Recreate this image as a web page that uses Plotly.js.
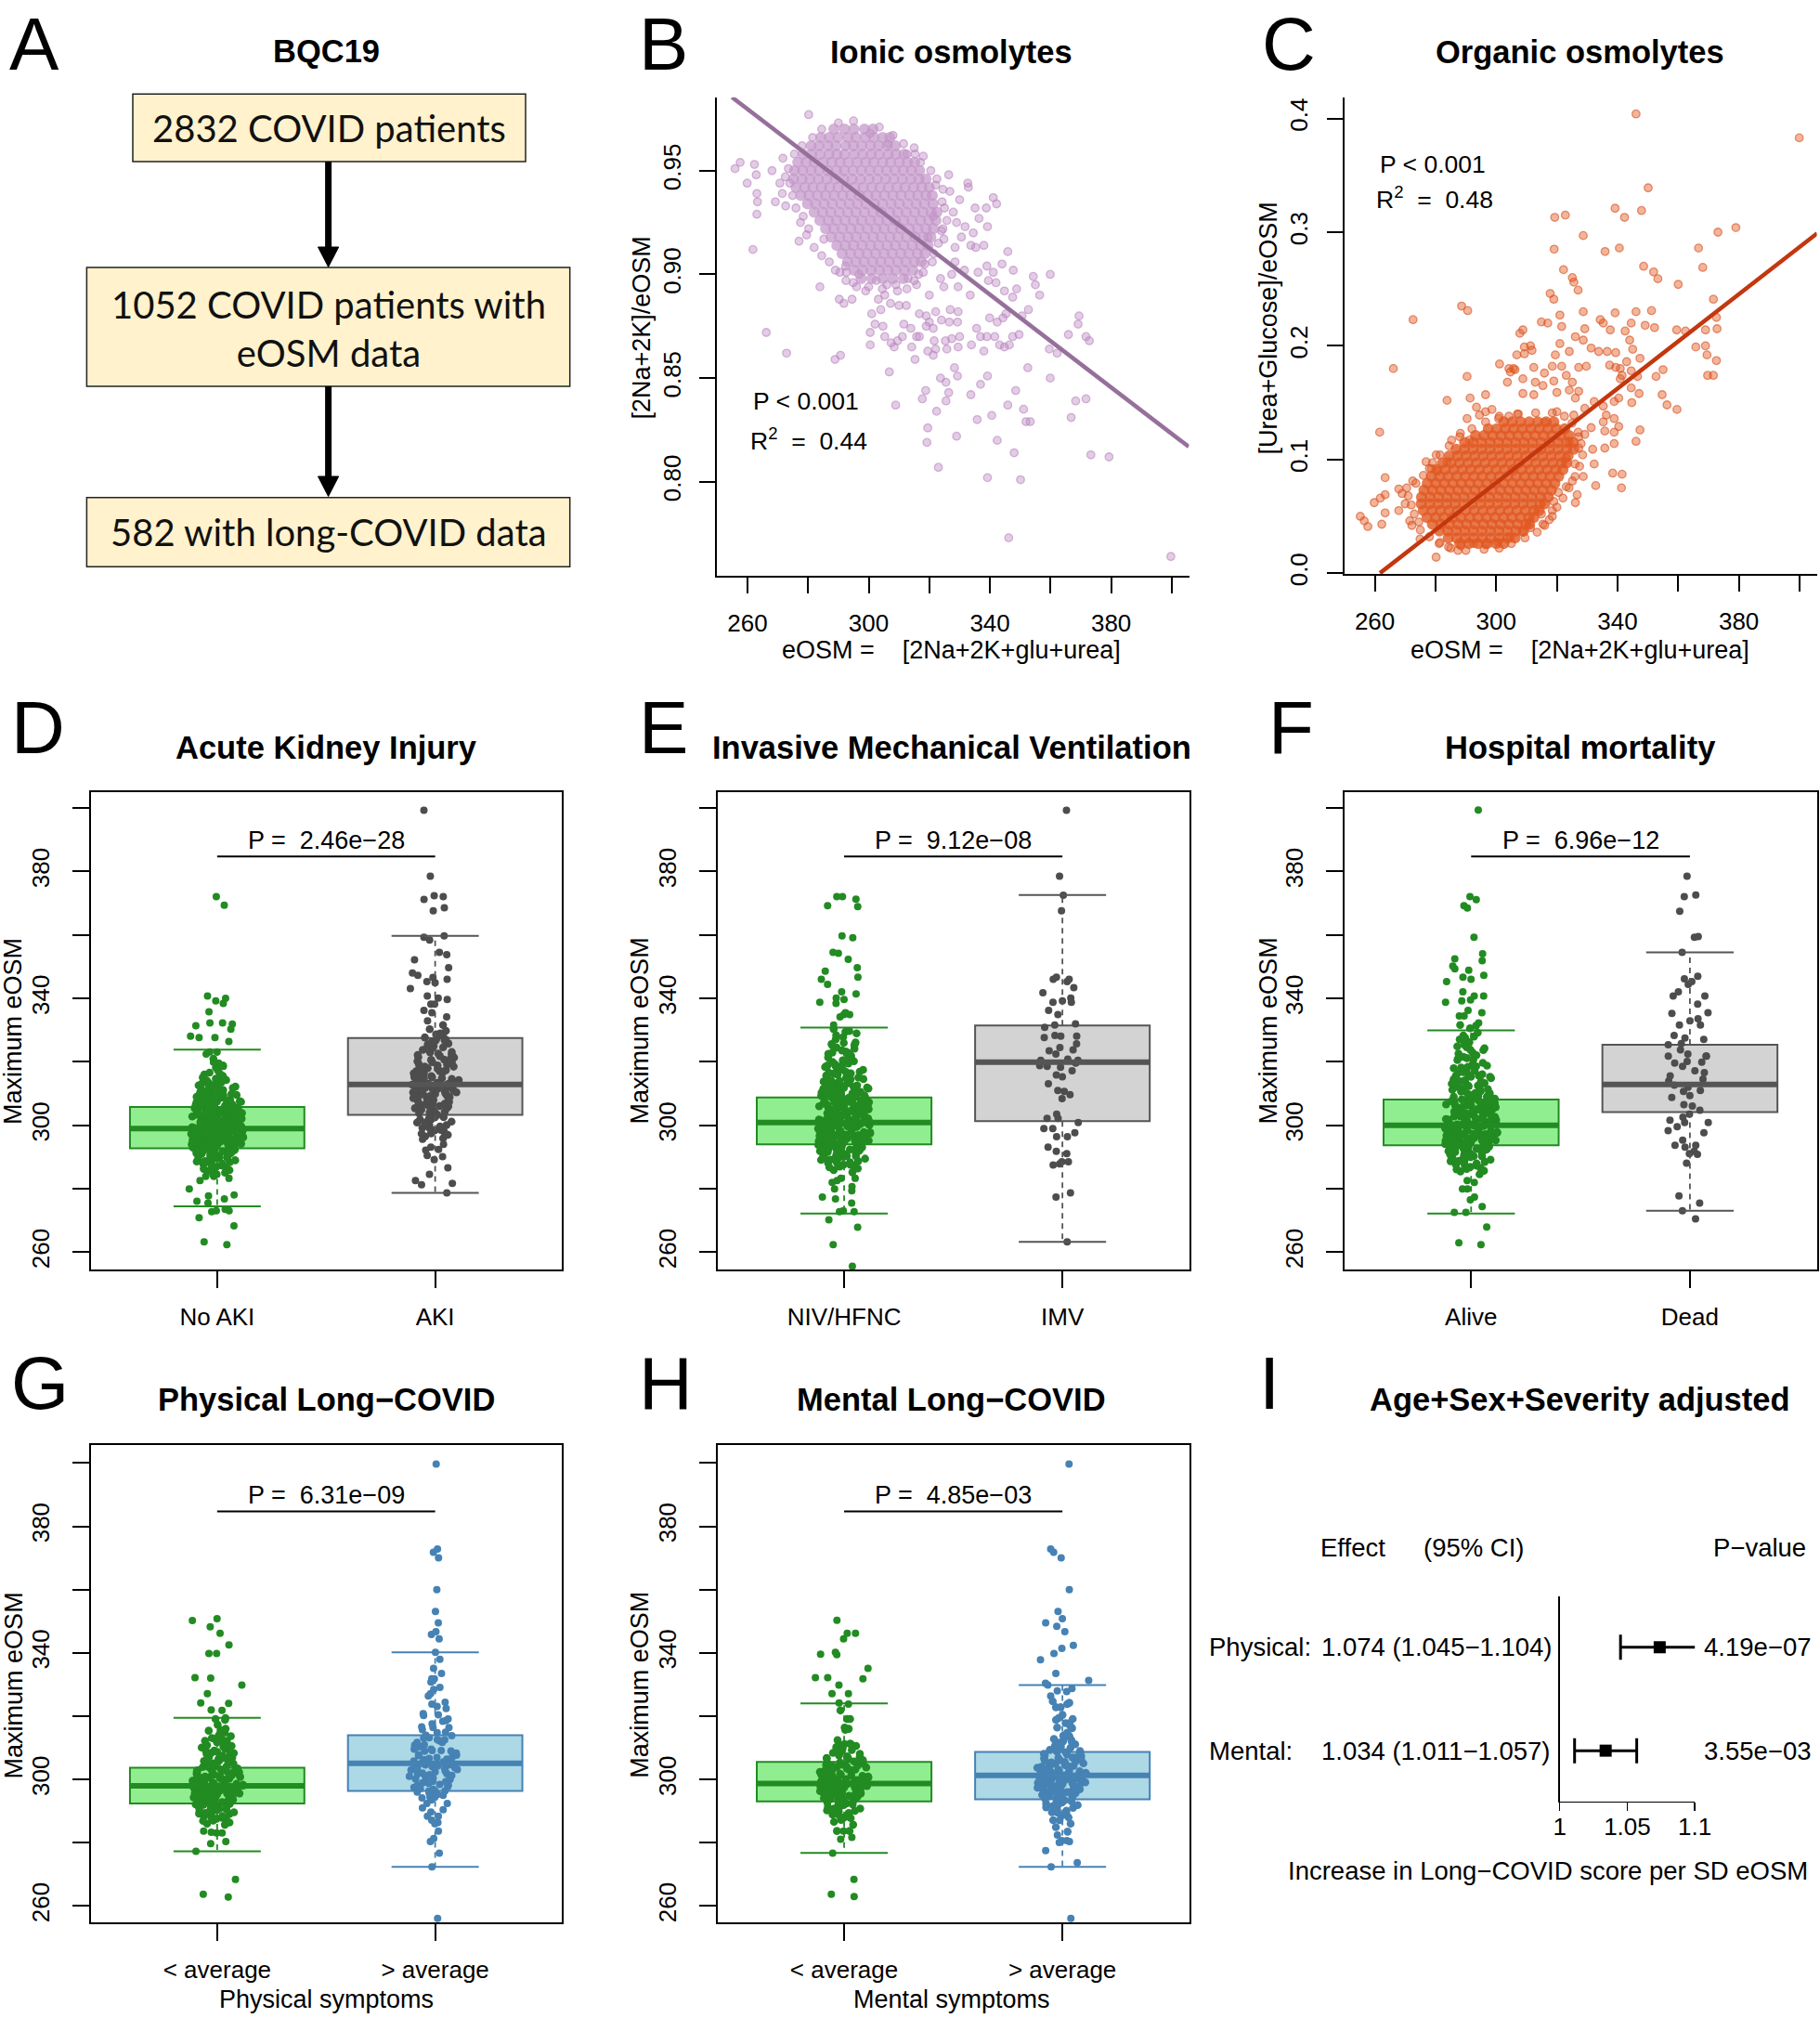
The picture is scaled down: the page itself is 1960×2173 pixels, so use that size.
<!DOCTYPE html>
<html>
<head>
<meta charset="utf-8">
<script src="https://cdn.plot.ly/plotly-3.0.1.min.js"></script>
<style>html,body{margin:0;padding:0;background:#fff;}#fig{width:1960px;height:2173px;}</style>
</head>
<body>
<div id="fig"></div>
<script>
// ================= DATA =================
// Panel A – cohort flow
const flowCounts = [2832, 1052, 582];
const flowTexts = [' COVID patients', ' COVID patients with<br>eOSM data', ' with long-COVID data'];

// Panel B – ionic osmolytes: dense core (rows) + scattered points
const ionicCoreY = [0.970,0.966,0.962,0.958,0.954,0.950,0.946,0.942,0.938,0.934,0.930,0.926,0.922,0.918,0.914,0.910,0.906,0.902,0.898];
const ionicCoreX = [
 [288.5,292.0,295.1,298.6,301.4],
 [284.2,287.0,289.9,293.1,295.8,298.9,301.7,304.6,307.0],
 [281.0,283.6,286.5,289.2,292.4,295.0,297.7,300.6,303.3,306.1,308.8],
 [278.3,281.2,284.0,286.9,289.5,292.1,295.2,298.0,300.8,303.5,306.4,309.0,311.7],
 [276.6,279.4,282.1,285.0,287.8,290.5,293.3,296.2,299.0,301.7,304.6,307.2,310.1,312.8,315.2],
 [275.5,278.2,281.0,283.7,286.5,289.4,292.0,294.8,297.6,300.4,303.2,305.9,308.7,311.4,314.1,316.8],
 [275.2,278.0,280.6,283.4,286.2,289.0,291.8,294.5,297.3,300.1,302.8,305.6,308.3,311.1,313.9,316.6,318.9],
 [276.0,278.9,281.6,284.4,287.1,289.9,292.7,295.4,298.2,301.0,303.7,306.5,309.3,312.0,314.8,317.5,320.0],
 [277.6,280.3,283.1,285.8,288.6,291.4,294.1,296.9,299.7,302.4,305.2,308.0,310.7,313.5,316.2,318.9,321.0],
 [279.8,282.5,285.3,288.0,290.8,293.6,296.3,299.1,301.9,304.6,307.4,310.1,312.9,315.7,318.4,321.2],
 [282.0,284.8,287.5,290.3,293.1,295.8,298.6,301.4,304.1,306.9,309.6,312.4,315.2,317.9,320.6,322.5],
 [283.9,286.7,289.4,292.2,295.0,297.7,300.5,303.3,306.0,308.8,311.5,314.3,317.1,319.8,322.2],
 [285.8,288.5,291.3,294.1,296.8,299.6,302.4,305.1,307.9,310.6,313.4,316.2,318.9,321.4],
 [287.6,290.4,293.2,295.9,298.7,301.5,304.2,307.0,309.7,312.5,315.3,318.0,320.5],
 [289.5,292.3,295.0,297.8,300.6,303.3,306.1,308.8,311.6,314.4,317.1,319.6],
 [291.2,294.0,296.8,299.5,302.3,305.1,307.8,310.6,313.3,316.1,318.6],
 [293.0,295.8,298.5,301.3,304.0,306.8,309.6,312.3,315.1,317.4],
 [295.2,298.0,300.8,303.5,306.3,309.0,311.8,314.6],
 [297.5,301.0,304.6,308.0,311.5]
];
const ionicPoints = [
 [280.2,0.977],[255.9,0.951],[257.6,0.954],[262.3,0.953],[262.9,0.948],[259.9,0.944],[263.1,0.939],[263.3,0.935],[263.1,0.929],[261.8,0.912],
 [268.1,0.950],[269.2,0.935],[271.7,0.956],[270.7,0.944],[271.5,0.939],[272.6,0.933],[274.9,0.938],[277.0,0.916],[278.4,0.928],[280.2,0.922],
 [285.2,0.917],[283.9,0.894],[290.3,0.888],[291.8,0.886],[294.5,0.888],[266.2,0.872],[272.9,0.862],[288.9,0.859],[290.7,0.861],
 [300.5,0.968],[306.5,0.963],[312.6,0.958],[315.3,0.958],[317.1,0.954],[326.4,0.948],[332.7,0.944],[332.9,0.942],[335.1,0.932],[338.8,0.932],
 [341.1,0.937],[342.2,0.934],[339.2,0.923],[336.4,0.927],[331.8,0.923],[330.6,0.918],[333.7,0.914],[338.0,0.914],[335.3,0.913],[345.9,0.911],
 [324.8,0.917],[328.5,0.913],[325.8,0.926],[321.3,0.928],[327.9,0.930],[324.2,0.935],[322.1,0.943],
 [347.7,0.902],[339.0,0.904],[341.1,0.901],[339.5,0.897],[342.0,0.896],[344.8,0.892],[347.5,0.889],[354.3,0.899],[355.0,0.895],[356.4,0.890],
 [359.9,0.900],[352.7,0.883],[350.6,0.880],[345.3,0.881],[344.3,0.879],[339.9,0.879],[342.4,0.877],[335.6,0.874],[336.9,0.870],[339.0,0.870],
 [341.6,0.870],[343.2,0.866],[344.8,0.865],[346.4,0.866],[347.5,0.870],[349.6,0.871],[338.0,0.863],[333.9,0.866],[330.0,0.870],[327.4,0.869],
 [325.3,0.868],[329.5,0.865],[325.8,0.864],[321.6,0.868],[322.1,0.864],[321.3,0.861],[319.5,0.863],[315.8,0.870],[314.2,0.865],[315.3,0.859],
 [308.4,0.865],[307.4,0.867],[309.5,0.868],[311.1,0.870],[311.6,0.876],[313.9,0.874],[316.7,0.870],[319.0,0.875],[320.0,0.877],[321.3,0.874],
 [324.0,0.878],[326.6,0.877],[329.3,0.877],[329.5,0.882],[326.9,0.883],[322.1,0.882],[319.0,0.880],[316.7,0.881],[312.4,0.885],[310.0,0.885],
 [307.2,0.886],[304.0,0.883],[301.0,0.881],[302.1,0.876],[300.5,0.872],[304.7,0.875],[305.3,0.870],[300.5,0.866],[306.8,0.853],[308.9,0.837],
 [317.7,0.840],[318.8,0.844],[322.4,0.834],[323.7,0.850],[325.5,0.848],[326.4,0.843],[325.5,0.839],[328.3,0.855],[329.3,0.851],[333.7,0.842],
 [336.9,0.847],[339.2,0.851],[335.8,0.830],[340.6,0.832],[345.9,0.837],[348.5,0.844],[351.1,0.835],[351.9,0.829],[353.3,0.829],[352.5,0.855],
 [319.5,0.826],[319.2,0.819],[329.0,0.822],[342.4,0.820],[348.0,0.814],[323.0,0.807],[339.2,0.802],[350.1,0.801],[346.2,0.773],[399.7,0.764],
 [359.9,0.850],[362.2,0.862],[359.6,0.864],[365.9,0.871],[369.4,0.880],[369.1,0.876],[371.7,0.870],[372.8,0.868],[366.8,0.831],[368.3,0.839],
 [371.7,0.840],[373.3,0.813],[379.3,0.812],
 [320.0,0.890],[324.8,0.894],[329.5,0.894],[333.5,0.890],[336.1,0.901],[331.6,0.902],[327.4,0.900],[323.7,0.898],[328.5,0.906],[315.8,0.895],
 [312.6,0.893],[309.5,0.892],[305.3,0.890],[303.2,0.888],[299.0,0.892],[296.8,0.900],[294.9,0.896],[292.6,0.901],[290.5,0.901],[292.4,0.904],
 [318.5,0.905],[321.5,0.910],[324.0,0.921],[319.5,0.918],[326.8,0.940],[330.0,0.936],[329.0,0.925],[316.5,0.900],[313.0,0.898],[306.0,0.895],
 [302.5,0.897],[334.5,0.920],[344.0,0.905],[348.8,0.893],
 [273.5,0.951],[274.0,0.944],[272.5,0.947],[276.0,0.932],[277.5,0.925],[279.5,0.919],[282.0,0.913],[284.5,0.909],[287.0,0.906],[289.0,0.902],
 [275.5,0.958],[278.0,0.962],[281.5,0.966],[284.5,0.970],[290.0,0.973],[295.0,0.974],[303.5,0.971],[308.0,0.967],[311.5,0.963],[315.0,0.961],
 [318.0,0.957],[320.5,0.950],[322.5,0.946],[324.5,0.941],[325.0,0.932],[324.5,0.922],[323.0,0.915],[321.0,0.906],[318.0,0.901],[315.0,0.897],
 [296.0,0.894],[292.5,0.897],[300.0,0.894],[304.5,0.893],[309.0,0.895]
];
const ionicFitX = [254.9, 405.6];
const ionicFitY = [0.9854, 0.8169];
const ionicStats = ['P < 0.001', 'R<sup>2</sup>  =  0.44'];

// Panel C – organic osmolytes
const organicCoreY = [0.133,0.127,0.121,0.115,0.109,0.103,0.097,0.091,0.085,0.079,0.073,0.067,0.061,0.055,0.049,0.043,0.037,0.031,0.026];
const organicCoreX = [
 [302.5,305.3,308.1,310.9,313.7,316.5,319.0],
 [297.4,300.2,303.0,305.8,308.6,311.4,314.2,317.0,319.8,322.6],
 [293.2,296.0,298.8,301.6,304.4,307.2,310.0,312.8,315.6,318.4,321.2,324.0],
 [289.6,292.4,295.2,298.0,300.8,303.6,306.4,309.2,312.0,314.8,317.6,320.4,323.2,325.4],
 [286.8,289.6,292.4,295.2,298.0,300.8,303.6,306.4,309.2,312.0,314.8,317.6,320.4,323.2,325.6],
 [284.5,287.3,290.1,292.9,295.7,298.5,301.3,304.1,306.9,309.7,312.5,315.3,318.1,320.9,323.7],
 [282.3,285.1,287.9,290.7,293.5,296.3,299.1,301.9,304.7,307.5,310.3,313.1,315.9,318.7,321.5,323.2],
 [280.4,283.2,286.0,288.8,291.6,294.4,297.2,300.0,302.8,305.6,308.4,311.2,314.0,316.8,319.6,322.0],
 [278.6,281.4,284.2,287.0,289.8,292.6,295.4,298.2,301.0,303.8,306.6,309.4,312.2,315.0,317.8,320.6],
 [277.3,280.1,282.9,285.7,288.5,291.3,294.1,296.9,299.7,302.5,305.3,308.1,310.9,313.7,316.5,319.3],
 [276.2,279.0,281.8,284.6,287.4,290.2,293.0,295.8,298.6,301.4,304.2,307.0,309.8,312.6,315.4,318.2],
 [275.4,278.2,281.0,283.8,286.6,289.4,292.2,295.0,297.8,300.6,303.4,306.2,309.0,311.8,314.6,317.2],
 [275.3,278.1,280.9,283.7,286.5,289.3,292.1,294.9,297.7,300.5,303.3,306.1,308.9,311.7,314.5,316.0],
 [276.0,278.8,281.6,284.4,287.2,290.0,292.8,295.6,298.4,301.2,304.0,306.8,309.6,312.4,314.2],
 [277.2,280.0,282.8,285.6,288.4,291.2,294.0,296.8,299.6,302.4,305.2,308.0,310.8,312.4],
 [279.0,281.8,284.6,287.4,290.2,293.0,295.8,298.6,301.4,304.2,307.0,309.8,311.0],
 [281.3,284.1,286.9,289.7,292.5,295.3,298.1,300.9,303.7,306.5,309.0],
 [284.2,287.0,289.8,292.6,295.4,298.2,301.0,303.8,306.2],
 [288.0,291.0,294.0,297.0,300.0,302.5]
];
const organicPoints = [
 [346.1,0.404],[399.9,0.383],[350.1,0.339],[339.2,0.321],[342.3,0.313],[347.9,0.319],[319.3,0.313],[322.8,0.315],[328.7,0.297],[319.1,0.285],
 [335.9,0.283],[340.6,0.286],[373.1,0.300],[379.0,0.304],[366.7,0.286],[368.1,0.269],[360.0,0.254],[348.6,0.270],[351.9,0.265],[353.3,0.259],
 [322.2,0.267],[325.1,0.260],[325.6,0.256],[327.0,0.249],[317.8,0.246],[319.0,0.241],[288.6,0.235],[290.6,0.231],[272.6,0.223],[266.1,0.180],
 [261.6,0.124],[371.6,0.241],[372.6,0.225],[372.8,0.215],[369.0,0.214],[365.8,0.199],[369.0,0.200],[369.5,0.192],[372.6,0.187],[369.7,0.174],
 [371.6,0.174],[359.5,0.214],[362.4,0.213],[355.0,0.179],[352.7,0.173],[354.7,0.157],[356.3,0.148],[359.6,0.144],[347.4,0.126],[346.1,0.116],
 [351.2,0.231],[349.1,0.218],[352.2,0.216],[346.1,0.230],[344.5,0.220],[339.2,0.229],[342.5,0.213],[344.0,0.205],[345.0,0.197],[347.4,0.189],
 [343.0,0.186],[340.9,0.180],[339.4,0.194],[336.6,0.195],[333.8,0.195],[331.3,0.198],[334.3,0.223],[335.3,0.220],[337.6,0.214],[328.7,0.230],
 [329.2,0.215],[326.1,0.208],[328.7,0.205],[321.0,0.227],[321.6,0.217],[321.0,0.202],[324.1,0.195],[319.5,0.192],[314.9,0.221],[317.0,0.220],
 [308.8,0.214],[307.8,0.211],[311.3,0.200],[311.8,0.196],[306.8,0.192],[309.3,0.193],[301.1,0.184],[304.2,0.180],[306.2,0.179],[312.4,0.181],
 [318.5,0.182],[321.6,0.182],[327.2,0.181],[329.7,0.182],[323.1,0.174],[337.4,0.183],[339.4,0.181],[340.9,0.171],[344.5,0.178],[346.6,0.173],
 [344.5,0.163],[347.1,0.158],[344.7,0.150],[338.9,0.151],[340.4,0.154],[341.5,0.174],[290.4,0.173],[283.8,0.152],[291.4,0.154],[304.7,0.177],
 [303.7,0.168],[308.8,0.171],[312.9,0.168],[315.9,0.176],[319.0,0.169],[325.1,0.168],[327.2,0.160],[335.3,0.147],[336.3,0.139],[338.9,0.136],
 [335.3,0.133],[335.8,0.125],[338.9,0.124],[340.4,0.129],[331.3,0.128],[329.2,0.122],[327.2,0.120],[331.8,0.109],[335.8,0.110],[338.9,0.114],
 [338.4,0.088],[341.5,0.087],[341.3,0.075],[332.3,0.096],[332.8,0.077],[328.7,0.085],[326.0,0.096],[326.1,0.062],[326.7,0.069],[323.1,0.076],
 [318.5,0.055],[315.4,0.043],[317.5,0.047],[280.2,0.014],[274.9,0.030],[267.9,0.055],[263.4,0.084],[263.4,0.069],[261.8,0.066],[259.8,0.062],
 [255.2,0.050],[256.5,0.046],[257.7,0.041],[262.3,0.043],[263.4,0.053],[267.9,0.074],[269.0,0.070],[270.0,0.061],[272.5,0.081],[271.5,0.046],
 [272.2,0.042],[276.9,0.098],[280.2,0.104],[278.7,0.092],[280.7,0.090],[283.8,0.098],[285.3,0.117],[288.2,0.123],[290.4,0.136],[291.2,0.117],
 [293.5,0.146],[294.5,0.139],[296.5,0.142],[298.6,0.144],[300.8,0.136],[296.5,0.157],[305.7,0.180],[309.3,0.199],[304.2,0.138],[307.3,0.140],
 [308.8,0.158],[312.4,0.157],[315.4,0.165],[320.0,0.159],[324.1,0.161],[326.1,0.154],[329.2,0.145],[332.3,0.151],[325.6,0.139],[320.0,0.142],
 [315.9,0.133],[324.1,0.116],[327.2,0.110],[323.1,0.101],[325.1,0.081],[320.5,0.071],[319.0,0.063],[314.9,0.052],[311.3,0.040],[308.8,0.036],
 [304.7,0.032],[300.6,0.027],[296.5,0.025],[292.5,0.026],[288.4,0.024],[287.4,0.020],[284.3,0.023],[281.2,0.026],
 [272.0,0.060],[273.0,0.052],[274.5,0.045],[271.0,0.068],[270.5,0.075],[273.5,0.079],[276.0,0.086],[278.0,0.092],[275.0,0.038],[278.0,0.032],
 [281.5,0.027],[285.0,0.022],[290.0,0.020],[296.0,0.021],[301.0,0.022],[305.0,0.026],[309.5,0.031],[313.5,0.036],[316.0,0.042],[318.5,0.050],
 [320.0,0.058],[322.0,0.066],[324.0,0.075],[326.0,0.085],[327.5,0.094],[328.5,0.104],[328.0,0.114],[327.0,0.124],[325.0,0.132],[322.5,0.138],
 [318.5,0.141],[313.0,0.141],[307.0,0.140],[301.0,0.138],[296.5,0.133],[292.0,0.127],[288.0,0.120],[284.5,0.112],[281.5,0.104],[279.0,0.097]
];
const organicFitX = [261.7, 405.8];
const organicFitY = [0.0, 0.2989];
const organicStats = ['P < 0.001', 'R<sup>2</sup>  =  0.48'];

// Panel D – Acute kidney injury
const akiCats = ['No AKI', 'AKI'];
const akiQ1 = [292.8, 303.3], akiMed = [299.0, 312.9], akiQ3 = [305.8, 327.5], akiLo = [274.5, 278.7], akiHi = [323.9, 359.7];
const akiP = 'P =  2.46e\u221228';
const akiNoTail = [369.4,372.1,340.8,340.0,339.2,338.4,335.8,332.3,331.9,332.3,331.4,330.3,328.1,327.7,327.7,326.4,323.1,323.1,322.5,319.9,319.6,318.6,
 283.9,284.6,284.6,283.3,282.6,283.9,280.0,278.1,277.8,276.8,276.1,275.5,273.5,272.8,273.1,273.1,270.9,268.3,262.4,263.3];
const akiNoCore = [318.9,317.2,316.0,315.1,314.3,313.5,312.6,311.8,311.1,310.4,309.8,309.2,308.7,308.1,307.6,307.1,306.7,306.2,305.8,305.4,305.0,304.6,304.2,303.8,
 303.5,303.1,302.8,302.4,302.1,301.8,301.5,301.2,300.9,300.6,300.3,300.0,299.7,299.4,299.1,298.8,298.5,298.2,297.9,297.6,297.3,297.0,296.7,296.4,296.0,295.7,
 295.3,295.0,294.6,294.2,293.8,293.4,293.0,292.5,292.0,291.5,291.0,290.4,289.8,289.1,288.4,287.6,286.8,285.9,
 321.0,316.6,314.7,313.1,312.2,310.8,309.5,308.4,307.4,306.5,305.6,304.8,304.0,303.3,302.6,301.9,301.3,300.7,300.1,299.5,298.9,298.3,297.7,297.1,296.5,295.9,
 295.2,294.4,293.6,292.8,291.8,290.7,289.4,287.9,286.3,
 303.6,302.2,300.4,299.2,298.0,296.8,295.5,294.0,299.9,301.0,297.4,304.4,292.2,306.9,290.0,309.9,288.7,311.4,300.2,298.6,296.2,302.9,294.8,305.2,293.2,307.9,
 291.2,315.6,
 300.5,299.3,301.7,298.1,302.9,297.0,304.1,295.8,305.3,294.6,306.6,293.3,308.0,292.0,309.6,290.6,311.3,289.0,313.4,287.3,316.2,285.1,
 300.9,299.6,302.0,298.4,303.2,297.2,304.5,296.0,305.8,294.8,307.2,293.5,308.8,292.1,310.4,290.4,312.3,288.6,314.8,286.5,318.2,
 299.8,301.2,298.7,302.5,297.6,303.9,296.4,305.1,295.1,306.3,293.9,307.5,292.6,309.0,291.2,310.9,289.6,312.9,287.8,315.6,
 300.0,299.0,301.4,297.8,302.7,296.6,303.6,295.4,304.9,294.3,306.0,293.0,307.8,291.6,309.3,290.0,311.8,288.1,314.1,
 298.4,301.5,297.5,302.4,296.2,303.4,295.0,304.7,293.7,306.1,292.3,307.4,290.9,308.6,289.3,310.1,287.0,312.7,285.6];
const akiYesTail = [399.3,378.5,371.2,372.4,372.1,368.6,367.6,359.3,359.7,358.4,352.2,353.8,354.5,349.7,348.0,347.3,346.6,345.3,346.0,344.9,343.1,340.8,340.1,
 339.7,338.2,336.2,335.5,338.2,334.2,332.9,
 290.5,292.4,289.2,292.2,290.1,286.6,284.6,282.6,281.3,281.7,278.7,294.0,293.1,295.6];
const akiYesCore = [331.6,330.3,329.0,327.7,
 327.1,326.3,325.5,324.6,323.8,323.0,322.2,321.4,320.6,319.9,319.2,318.5,317.8,317.1,316.4,315.8,315.2,314.6,314.0,313.4,312.8,312.2,311.6,311.0,310.4,309.8,
 309.2,308.6,308.0,307.4,306.8,306.1,305.4,304.7,304.0,303.3,302.5,301.7,300.9,300.0,299.1,298.1,297.0,295.9,
 328.6,325.0,322.6,320.2,318.0,316.0,314.3,312.5,311.3,309.5,307.7,306.0,304.3,302.1,299.6,297.5,
 313.7,312.9,314.9,311.9,316.7,310.7,318.9,308.9,321.8,306.4,324.4,303.8,313.1,315.5,310.1,317.4,305.7,320.9,301.2,326.8,298.6,
 313.0,312.0,314.0,311.0,315.2,309.9,316.5,308.7,317.8,307.5,319.2,306.2,320.7,304.9,322.3,303.4,324.0,301.8,325.8,300.1,327.7,298.4,329.8,296.5,
 312.6,313.6,311.5,314.6,310.4,315.8,309.3,317.1,308.1,318.5,306.8,320.0,305.5,321.5,304.1,323.1,302.6,324.9,300.9,326.8,299.2,328.7,297.4];

// Panel E – Invasive mechanical ventilation
const imvCats = ['NIV/HFNC', 'IMV'];
const imvQ1 = [294.0, 301.3], imvMed = [300.9, 319.9], imvQ3 = [308.8, 331.5], imvLo = [272.2, 263.3], imvHi = [330.8, 372.6];
const imvP = 'P =  9.12e\u221208';
const imvNoTail = [371.3,372.1,372.1,368.9,369.2,359.1,359.7,354.2,352.3,354.5,349.7,346.7,346.0,348.6,344.4,342.1,341.4,339.7,340.1,338.8,338.4,335.5,334.9,
 334.9,334.2,331.6,
 270.2,273.1,272.8,272.8,275.5,267.9,262.4,255.6,280.0,277.4,276.8,279.4,280.7,282.0,283.3,282.6,283.3];
const imvNoCore = [329.7,330.3,285.2,
 328.4,327.1,326.0,325.1,324.2,323.3,322.5,321.7,320.9,320.2,319.5,318.8,318.1,317.5,316.9,316.3,315.7,315.1,314.6,314.0,313.5,313.0,312.5,312.0,311.5,311.0,
 310.5,310.1,309.6,309.2,308.7,308.3,307.9,307.4,307.0,306.6,306.2,305.8,305.4,305.0,304.6,304.2,303.8,303.4,303.0,302.6,302.2,301.9,301.5,301.1,300.7,300.3,
 299.9,299.5,299.1,298.7,298.3,297.9,297.5,297.1,296.7,296.3,295.9,295.4,295.0,294.5,294.1,293.6,293.1,292.6,292.1,291.6,291.0,290.4,289.8,289.1,288.4,287.6,
 286.8,285.9,
 329.5,325.6,322.9,320.5,318.4,316.6,314.9,313.3,311.8,310.3,309.0,307.7,306.4,305.2,304.0,302.9,301.7,300.5,299.3,298.1,296.9,295.7,294.3,292.9,291.3,289.5,
 287.3,
 301.3,300.1,302.4,298.9,303.6,297.7,304.8,296.5,306.0,295.2,307.3,293.8,308.6,292.4,310.0,290.7,312.2,288.7,315.4,300.9,299.7,302.0,298.5,303.2,297.3,304.4,
 296.1,305.6,294.7,306.8,293.3,308.1,291.9,309.4,290.1,311.4,
 301.0,300.2,302.3,299.0,303.5,297.8,304.7,296.6,306.0,295.4,307.3,294.2,308.7,292.9,310.2,291.5,311.9,289.9,313.8,288.2,316.0,286.4,318.6,321.4,324.5,327.8,
 300.6,301.8,299.4,303.0,298.2,304.2,297.0,305.5,295.8,306.8,294.6,308.2,293.3,309.7,291.9,311.3,290.3,313.1,288.7,315.2,287.0,317.5,320.0,322.8,326.1,
 301.4,299.8,302.6,298.6,303.9,297.4,305.1,296.2,306.4,295.0,307.8,293.7,309.3,292.2,310.8,290.7,312.6,289.2,314.5,287.6,316.8,319.3,321.9,325.3,329.0,
 300.4,302.0,299.2,303.3,297.9,304.6,296.8,305.9,295.5,307.0,294.0,308.4,292.6,309.9,291.0,311.6,289.5,314.0,288.0,316.4,318.9,323.6];
const imvYesPts = [399.3,378.5,372.5,367.6,346.7,346.0,346.0,345.3,343.4,340.1,341.8,338.8,339.2,338.8,336.2,334.9,332.0,331.6,330.9,328.3,328.1,327.7,328.1,
 325.7,324.5,323.8,323.5,322.5,320.5,320.9,320.5,319.6,318.8,318.6,318.3,317.2,315.9,315.3,313.1,311.0,310.7,309.7,308.4,302.2,303.5,302.2,300.9,299.0,299.0,
 297.7,296.4,296.4,293.1,291.1,291.8,288.5,288.5,287.9,287.5,278.7,277.4,263.3];

// Panel F – Hospital mortality
const mortCats = ['Alive', 'Dead'];
const mortQ1 = [293.7, 304.2], mortMed = [300.0, 312.9], mortQ3 = [308.1, 325.4], mortLo = [272.2, 273.1], mortHi = [329.9, 354.5];
const mortP = 'P =  6.96e\u221212';
const mortAliveTail = [399.4,372.1,371.1,369.2,368.5,359.3,354.1,352.5,351.9,350.2,349.3,348.9,347.3,346.7,346.0,345.3,342.1,340.8,339.5,339.2,338.8,340.8,
 335.5,334.5,336.2,334.5,332.3,
 272.6,272.6,274.4,276.5,277.4,268.0,263.0,262.4,280.0,280.0,282.6,282.0];
const mortAliveCore = [331.6,331.4,330.6,284.6,
 329.2,327.6,326.2,324.9,323.7,322.6,321.6,320.6,319.7,318.8,318.0,317.2,316.4,315.6,314.9,314.2,313.5,312.8,312.1,311.4,310.8,310.2,309.6,309.0,308.4,307.8,
 307.2,306.7,306.1,305.6,305.0,304.5,304.0,303.5,303.0,302.5,302.0,301.5,301.0,300.5,300.1,299.6,299.1,298.6,298.2,297.7,297.2,296.7,296.2,295.7,295.2,294.6,
 294.1,293.5,292.9,292.3,291.6,290.9,290.2,289.4,288.5,287.6,286.6,285.5,
 328.0,324.3,321.1,318.4,316.0,313.9,311.8,310.0,308.2,306.5,304.8,303.2,301.7,300.3,298.9,297.4,295.9,294.4,292.7,290.8,288.7,286.1,
 300.2,299.8,300.8,299.3,301.3,298.8,301.8,298.3,302.3,297.8,302.8,297.3,303.3,296.8,303.8,296.3,304.3,295.8,304.8,295.3,305.3,294.8,305.8,294.3,306.3,293.8,
 307.0,293.0,307.6,292.4,309.3,291.0,312.5,289.9,315.3,
 300.3,299.5,301.6,298.3,302.8,297.1,304.0,295.9,305.3,294.7,306.6,293.5,308.0,292.2,309.5,290.8,311.2,289.2,313.1,287.5,315.3,285.7,317.9,320.7,323.8,327.1,
 299.9,301.1,298.7,302.3,297.5,303.5,296.3,304.8,295.1,306.1,293.9,307.5,292.6,309.0,291.2,310.6,289.6,312.4,288.0,314.5,286.3,316.8,319.3,322.1,325.4,
 300.7,299.1,301.9,297.9,303.2,296.7,304.4,295.5,305.7,294.3,307.1,293.0,308.6,291.5,310.1,290.0,311.9,288.5,313.8,286.9,316.1,318.6,321.2,324.6,328.3,
 299.7,301.3,298.5,302.6,297.2,303.9,296.1,305.2,294.8,306.3,293.3,307.7,291.9,309.2,290.3,310.9,288.8,313.3,287.3,315.7,318.2,322.9];
const mortDeadPts = [378.5,372.1,372.6,367.5,359.3,359.5,354.5,347.0,346.2,345.3,344.4,342.1,340.8,340.8,338.2,335.5,335.3,333.6,332.9,331.6,331.6,328.3,327.1,
 327.5,325.8,325.4,323.8,322.5,321.8,321.8,321.8,320.1,319.9,319.6,318.6,317.2,316.6,315.6,314.6,314.0,312.7,312.0,311.0,310.7,309.4,308.8,306.5,306.1,304.8,
 303.5,302.6,300.9,301.6,300.9,299.6,298.3,297.7,295.3,293.7,293.7,291.8,293.1,291.1,290.9,288.1,275.5,277.8,273.1,270.5];

// Panel G – Physical long-COVID
const physCats = ['< average', '> average'];
const physQ1 = [292.4, 296.4], physMed = [298.0, 305.1], physQ3 = [303.7, 314.0], physLo = [277.3, 272.4], physHi = [319.5, 340.2];
const physP = 'P =  6.31e\u221209';
const physLowTail = [350.2,350.8,348.2,346.2,342.5,339.8,339.8,329.8,332.0,332.2,327.1,324.0,324.2,322.0,321.8,
 280.4,283.7,283.3,283.1,283.1,279.7,277.3,268.4,262.8,263.7];
const physLowCore = [319.1,319.4,318.8,313.1,285.7,286.4,
 317.3,316.0,314.8,313.7,312.7,311.7,310.8,309.9,309.1,308.3,307.5,306.8,306.1,305.4,304.7,304.1,303.5,302.9,302.3,301.7,301.2,300.6,300.1,299.6,299.1,298.6,
 298.1,297.6,297.1,296.6,296.1,295.6,295.1,294.6,294.0,293.5,292.9,292.3,291.7,291.0,290.3,289.6,288.8,287.9,287.0,286.0,
 315.4,312.2,310.3,308.7,307.1,305.7,304.4,303.2,302.0,300.9,299.8,298.8,297.8,296.8,295.8,294.8,293.7,292.6,291.4,290.0,288.4,
 298.3,297.9,298.9,297.3,299.4,296.4,300.4,295.3,301.5,294.3,302.6,293.2,304.0,292.0,305.0,290.6,306.5,289.2,308.0,287.5,
 298.2,297.6,299.0,296.8,299.9,295.9,300.8,295.0,301.8,294.1,302.8,293.1,303.9,292.1,305.1,291.0,306.4,289.8,307.9,288.4,309.6,286.9,311.6,313.9,
 297.9,298.7,297.1,299.6,296.3,300.5,295.4,301.4,294.5,302.3,293.6,303.3,292.6,304.5,291.5,305.8,290.3,307.2,289.1,308.8,287.6,310.6,312.8,315.6,
 298.5,297.3,299.3,296.5,300.2,295.6,301.1,294.7,302.0,293.8,303.1,292.8,304.2,291.8,305.5,290.7,306.9,289.4,308.4,288.0,310.1,312.2];
const physHighPts = [399.7,372.8,370.0,371.8,360.0,353.1,349.5,345.8,346.7,344.4,340.2,338.0,333.5,335.1,331.8,331.8,329.1,328.4,327.1,330.8,326.4,323.8,323.1,
 324.4,322.4,320.4,319.1,320.2,318.4,316.4,316.4,313.8,313.1,312.2,310.4,310.4,309.1,307.7,309.1,305.7,306.4,303.7,303.1,303.7,301.1,300.4,300.4,301.7,298.4,
 296.4,296.4,297.1,294.4,294.4,292.4,292.4,290.4,289.7,288.4,288.4,287.1,286.4,286.0,283.7,281.3,280.4,276.7,272.4,256.1,
 305.1,304.0,306.3,302.6,307.5,301.5,308.9,300.0,310.8,298.8,312.6,297.5,314.9,296.0,303.3,306.9,299.3,309.6,301.0,304.6,298.2,311.7,295.3,302.0,
 305.5,304.6,306.6,303.5,307.8,302.4,309.0,301.3,310.3,300.1,311.7,298.9,313.2,297.7,314.8,296.4,316.6,295.0,318.6,293.5,
 305.8,304.3,307.0,303.0,308.3,301.8,309.6,300.6,311.0,299.4,312.5,298.1,314.0,296.9,315.7,295.7,317.6,294.2,320.8,291.0];

// Panel H – Mental long-COVID
const mentCats = ['< average', '> average'];
const mentQ1 = [293.1, 293.7], mentMed = [298.7, 301.3], mentQ3 = [305.5, 308.7], mentLo = [276.8, 272.4], mentHi = [324.0, 329.8];
const mentP = 'P =  4.85e\u221203';
const mentLowTail = [350.3,344.4,346.2,346.2,339.6,339.4,340.2,335.1,331.8,332.2,332.2,329.8,327.1,327.1,324.2,323.8,
 283.7,281.1,281.7,276.7,268.4,263.0,263.7];
const mentLowCore = [321.8,319.1,319.1,316.4,315.7,316.0,311.3,311.1,285.7,283.7,283.7,
 312.4,311.2,310.2,309.3,308.4,307.6,306.8,306.1,305.4,304.7,304.1,303.4,302.8,302.2,301.6,301.0,300.4,299.8,299.2,298.7,298.1,297.5,296.9,296.3,295.7,295.1,
 294.5,293.8,293.1,292.4,291.6,290.8,289.9,288.9,287.8,286.6,
 310.7,308.9,307.2,305.7,304.4,303.1,301.9,300.7,299.5,298.4,297.2,296.0,294.8,293.4,291.9,290.2,288.3,
 299.0,298.6,300.1,297.9,301.3,296.6,302.5,295.4,303.8,294.1,305.0,292.7,306.6,291.2,309.6,
 298.9,298.2,299.7,297.4,300.6,296.5,301.5,295.6,302.4,294.7,303.5,293.7,304.6,292.6,305.9,291.4,307.3,290.1,308.9,288.7,310.6,287.2,
 299.3,298.0,300.2,297.1,301.1,296.2,302.0,295.3,303.0,294.4,304.1,293.3,305.3,292.1,306.6,290.8,308.1,289.4,309.8,287.9,
 298.6,299.9,297.7,300.9,296.8,301.8,295.9,302.8,295.0,303.8];
const mentHighTail = [399.7,372.8,371.8,370.0,360.0,353.1,350.8,349.5,348.4,346.7,342.4,341.4,339.8,337.8,333.5,331.3,330.4,329.8,328.0,328.7,327.8,326.4,
 282.4,280.7,280.1,280.7,280.4,277.5,272.4,273.7,256.1];
const mentHighCore = [322.8,323.8,324.2,324.7,322.8,319.4,319.1,320.4,318.8,317.8,317.1,316.2,317.8,314.8,316.4,313.8,312.4,313.1,287.1,287.1,284.9,286.0,283.5,
 311.6,310.8,310.0,309.3,308.6,307.9,307.2,306.6,306.0,305.4,304.8,304.2,303.7,303.1,302.6,302.0,301.5,301.0,300.5,299.9,299.4,298.9,298.3,297.8,297.2,296.6,
 296.0,295.4,294.8,294.1,293.4,292.7,291.9,291.0,290.1,289.1,288.0,
 312.0,309.7,308.2,306.9,305.7,304.5,303.4,302.3,301.2,300.2,299.1,298.0,296.9,295.7,294.5,293.1,291.5,289.6,
 301.3,300.7,302.8,299.6,304.0,298.5,305.1,297.4,306.3,296.3,307.6,295.1,309.0,293.8,310.4,292.3,300.0,303.4,297.0,
 301.5,300.4,302.6,299.3,303.7,298.2,304.9,297.1,306.1,296.0,307.4,294.8,308.8,293.5,310.3,292.0,311.9,290.4,313.7,288.6,
 301.0,302.1,299.8,303.2,298.7,304.3,297.6,305.5,296.5,306.8,295.3,308.1,294.1,309.5,292.7,311.1,291.2,312.8,289.5,
 300.6,301.8,299.6,302.9,298.4,304.0,297.3];

// Panel I – adjusted effects
const forestNames = ['Physical:', 'Mental:'];
const forestEst = [1.074, 1.034];
const forestLow = [1.045, 1.011];
const forestHigh = [1.104, 1.057];
const forestPval = ['4.19e\u221207', '3.55e\u221203'];
const forestRow = [2, 1];

// ================= LAYOUT HELPERS =================
const W = 1960, H = 2173;
const px = x => x / W, py = y => 1 - y / H;
const FONT = 'Liberation Sans, Arial, Helvetica, sans-serif';
const annotations = [], shapes = [], traces = [];
const layout = {width: W, height: H, margin: {l:0, r:0, t:0, b:0}, paper_bgcolor:'#fff', plot_bgcolor:'rgba(0,0,0,0)',
  showlegend:false, boxmode:'overlay', font:{family:FONT, size:26, color:'#000'}, annotations, shapes};

function ann(text, x, y, size, extra) {
  annotations.push(Object.assign({text, x:px(x), y:py(y), xref:'paper', yref:'paper', showarrow:false,
    xanchor:'center', yanchor:'middle', font:{family:FONT, size:size, color:'#000'}}, extra || {}));
}
function axisBase(extra) {
  return Object.assign({showgrid:false, zeroline:false, showline:true, linecolor:'#000', linewidth:2,
    ticks:'outside', tickcolor:'#000', tickwidth:2, ticklen:17, tickfont:{family:FONT, size:26, color:'#000'},
    fixedrange:true}, extra);
}
function setAxes(n, xd, yd, xExtra, yExtra) {
  const xs = n === 1 ? 'xaxis' : 'xaxis' + n, ys = n === 1 ? 'yaxis' : 'yaxis' + n;
  const yid = n === 1 ? 'y' : 'y' + n, xid = n === 1 ? 'x' : 'x' + n;
  layout[xs] = axisBase(Object.assign({domain:[px(xd[0]), px(xd[1])], anchor:yid}, xExtra));
  layout[ys] = axisBase(Object.assign({domain:[py(yd[1]), py(yd[0])], anchor:xid}, yExtra));
  return [xid, yid];
}

// ----- Panel letters & titles -----
const lettersTop = [['A',8],['B',686],['C',1357]];
lettersTop.forEach(l => ann(l[0], l[1], 1, 80, {xanchor:'left', yanchor:'top'}));
const letters = [['D',10,783],['E',686,783],['F',1364,783],['G',10,1489],['H',686,1489],['I',1354,1489]];
letters.forEach(l => ann(l[0], l[1], l[2], 80, {xanchor:'left'}));
const titles = [['BQC19',351.4,55],['Ionic osmolytes',1024.8,56],['Organic osmolytes',1701.7,56],
  ['Acute Kidney Injury',351.4,804.6],['Invasive Mechanical Ventilation',1024.8,804.6],['Hospital mortality',1701.7,804.6],
  ['Physical Long\u2212COVID',351.4,1506.5],['Mental Long\u2212COVID',1024.8,1506.5],['Age+Sex+Severity adjusted',1701.7,1506.5]];
titles.forEach(t => ann('<b>' + t[0] + '</b>', t[1], t[2], 34.5));

// ----- Panel A: flow chart -----
const boxesA = [[143,566,101.3,174.1,137.7],[93.4,613.7,288,416,353.7],[93.4,613.7,535.7,610.2,573.5]];
boxesA.forEach((b, i) => {
  shapes.push({type:'rect', xref:'paper', yref:'paper', x0:px(b[0]), x1:px(b[1]), y0:py(b[3]), y1:py(b[2]),
    fillcolor:'#FFF2CC', line:{color:'#222', width:1.5}, layer:'below'});
  annotations.push({text: flowCounts[i] + flowTexts[i], x:px((b[0]+b[1])/2), y:py(b[4]), xref:'paper', yref:'paper',
    showarrow:false, xanchor:'center', yanchor:'middle', font:{family:'Lato, Carlito, sans-serif', size:40, color:'#111'}});
});
[[174.1,267],[416,514]].forEach(a => {
  shapes.push({type:'line', xref:'paper', yref:'paper', x0:px(353.6), x1:px(353.6), y0:py(a[0]), y1:py(a[1]), line:{color:'#000', width:7}});
  const tip = a[1] + 20.5;
  shapes.push({type:'path', xref:'paper', yref:'paper', fillcolor:'#000', line:{color:'#000', width:1},
    path:`M ${px(342.5)} ${py(a[1]-1)} L ${px(364.7)} ${py(a[1]-1)} L ${px(353.6)} ${py(tip)} Z`});
});

// ----- Panels B, C: scatter with regression line -----
function scatterPanel(n, xd, yd, yr, ytv, ytt, coreX, coreY, pts, fitX, fitY, colPt, colCore, colRing, colLine) {
  const [xa, ya] = setAxes(n, xd, yd,
    {range:[249.9, 405.7], tickvals:[260,280,300,320,340,360,380,400], ticktext:['260','','300','','340','','380',''], ticklabelstandoff:10},
    {range:yr, tickvals:ytv, ticktext:ytt, tickangle:-90, ticklabelstandoff:10});
  const cx = [], cy = [];
  coreX.forEach((row, i) => row.forEach(v => { cx.push(v); cy.push(coreY[i]); }));
  traces.push({type:'scatter', mode:'markers', x:pts.map(p => p[0]), y:pts.map(p => p[1]), xaxis:xa, yaxis:ya, hoverinfo:'skip',
    marker:{size:8.5, color:colPt, line:{width:1.3, color:colRing}}});
  traces.push({type:'scatter', mode:'markers', x:cx, y:cy, xaxis:xa, yaxis:ya, hoverinfo:'skip',
    marker:{size:12, color:colCore, line:{width:0}}});
  traces.push({type:'scatter', mode:'lines', x:fitX, y:fitY, xaxis:xa, yaxis:ya, hoverinfo:'skip', line:{color:colLine, width:4.5}});
}
scatterPanel(1, [772,1280.5], [104.7,620], [0.7547,0.9854], [0.80,0.85,0.90,0.95], ['0.80','0.85','0.90','0.95'],
  ionicCoreX, ionicCoreY, ionicPoints, ionicFitX, ionicFitY,
  'rgba(192,142,197,0.45)', 'rgba(194,150,199,0.72)', 'rgba(180,128,186,0.55)', '#96709B');
scatterPanel(2, [1447.6,1956.6], [104.7,618], [-0.0007,0.4187], [0,0.1,0.2,0.3,0.4], ['0.0','0.1','0.2','0.3','0.4'],
  organicCoreX, organicCoreY, organicPoints, organicFitX, organicFitY,
  'rgba(226,92,36,0.45)', 'rgba(225,88,32,0.8)', 'rgba(215,80,30,0.6)', '#C3370F');
ann(ionicStats[0], 809, 431.6, 26.5, {xanchor:'left'});
ann(ionicStats[1], 806, 473, 26.5, {xanchor:'left'});
ann(organicStats[0], 1484, 177.5, 26.5, {xanchor:'left'});
ann(organicStats[1], 1480, 213, 26.5, {xanchor:'left'});
ann('[2Na+2K]/eOSM', 691, 353.6, 27, {textangle:-90});
ann('[Urea+Glucose]/eOSM', 1366, 353.6, 27, {textangle:-90});
ann('eOSM = \u00a0\u00a0\u00a0[2Na+2K+glu+urea]', 1024.8, 700, 27);
ann('eOSM = \u00a0\u00a0\u00a0[2Na+2K+glu+urea]', 1701.7, 700, 27);

// ----- Panels D–H: box plots with jittered points -----
const greenC = {fill:'#90EE90', line:'#228B22', pt:'#228B22'};
const grayC = {fill:'#D3D3D3', line:'#555555', pt:'#4D4D4D'};
const blueC = {fill:'#ADD8E6', line:'#4682B4', pt:'#4682B4'};
function boxPanel(n, xd, yd, yr, cats, q1, med, q3, lo, hi, ptsArr, cols, ptext, ylabelX, ylabelY) {
  const [xa, ya] = setAxes(n, xd, yd,
    {range:[0.42,2.58], tickvals:[1,2], ticktext:cats, mirror:true, ticklen:18, ticklabelstandoff:9},
    {range:yr, tickvals:[260,280,300,320,340,360,380,400], ticktext:['260','','300','','340','','380',''], tickangle:-90,
     mirror:true, ticklen:18, ticklabelstandoff:14});
  [0, 1].forEach(i => {
    const pos = i + 1, c = cols[i];
    traces.push({type:'box', orientation:'v', x:[pos], q1:[q1[i]], median:[med[i]], q3:[q3[i]], lowerfence:[q1[i]], upperfence:[q3[i]],
      width:0.8, whiskerwidth:0, boxpoints:false, fillcolor:c.fill, line:{color:c.line, width:2}, xaxis:xa, yaxis:ya, hoverinfo:'skip'});
    traces.push({type:'scatter', mode:'lines', x:[pos-0.4, pos+0.4], y:[med[i], med[i]], xaxis:xa, yaxis:ya, hoverinfo:'skip',
      line:{color:c.line, width:6}});
    traces.push({type:'scatter', mode:'lines', x:[pos, pos, null, pos, pos], y:[q3[i], hi[i], null, q1[i], lo[i]], xaxis:xa, yaxis:ya,
      hoverinfo:'skip', line:{color:c.line, width:1.8, dash:'6px,5px'}});
    traces.push({type:'scatter', mode:'lines', x:[pos-0.2, pos+0.2, null, pos-0.2, pos+0.2], y:[hi[i], hi[i], null, lo[i], lo[i]],
      xaxis:xa, yaxis:ya, hoverinfo:'skip', line:{color:c.line, width:2}});
    ptsArr[i].forEach((arr, k) => {
      traces.push({type:'box', y:arr, x0:pos, width:0.8, boxpoints:'all', jitter:(k === 0 ? 0.3 : 0.34), pointpos:0, whiskerwidth:0,
        fillcolor:'rgba(0,0,0,0)', line:{color:'rgba(0,0,0,0)', width:0}, marker:{color:c.pt, size:(k === 0 && ptsArr[i].length > 1 ? 8.6 : 8), opacity:1},
        xaxis:xa, yaxis:ya, hoverinfo:'skip'});
    });
  });
  shapes.push({type:'line', xref:xa, yref:ya, x0:1, x1:2, y0:384.7, y1:384.7, line:{color:'#000', width:2}});
  annotations.push({text:ptext, x:1.5, y:389.7, xref:xa, yref:ya, showarrow:false, xanchor:'center', yanchor:'middle',
    font:{family:FONT, size:27, color:'#000'}});
  ann('Maximum eOSM', ylabelX, ylabelY, 27, {textangle:-90});
}
const row2Y = [852.9,1367.1], row2R = [254.55,405.03];
const row3Y = [1555.5,2070.2], row3R = [254.78,405.83];
boxPanel(3, [97.7,604.8], row2Y, row2R, akiCats, akiQ1, akiMed, akiQ3, akiLo, akiHi,
  [[akiNoCore, akiNoTail], [akiYesCore, akiYesTail]], [greenC, grayC], akiP, 14.7, 1110.4);
boxPanel(4, [772.7,1280.5], row2Y, row2R, imvCats, imvQ1, imvMed, imvQ3, imvLo, imvHi,
  [[imvNoCore, imvNoTail], [imvYesPts]], [greenC, grayC], imvP, 689, 1110.4);
boxPanel(5, [1447.6,1956.6], row2Y, row2R, mortCats, mortQ1, mortMed, mortQ3, mortLo, mortHi,
  [[mortAliveCore, mortAliveTail], [mortDeadPts]], [greenC, grayC], mortP, 1366, 1110.4);
boxPanel(6, [97.7,604.8], row3Y, row3R, physCats, physQ1, physMed, physQ3, physLo, physHi,
  [[physLowCore, physLowTail], [physHighPts]], [greenC, blueC], physP, 14.7, 1814.7);
boxPanel(7, [772.7,1280.5], row3Y, row3R, mentCats, mentQ1, mentMed, mentQ3, mentLo, mentHi,
  [[mentLowCore, mentLowTail], [mentHighCore, mentHighTail]], [greenC, blueC], mentP, 689, 1814.7);
ann('Physical symptoms', 351.4, 2153.4, 27);
ann('Mental symptoms', 1024.8, 2153.4, 27);

// ----- Panel I: forest plot -----
(function() {
  const [xa, ya] = setAxes(8, [1679.7,1825.2], [1719.2,1939.7],
    {range:[1,1.1], tickvals:[1,1.05,1.1], ticktext:['1','1.05','1.1'], ticklen:9, linewidth:1.5, tickwidth:1.5, ticklabelstandoff:-5},
    {range:[0.51,2.49], showticklabels:false, ticks:'', linewidth:1.5});
  traces.push({type:'scatter', mode:'markers', x:forestEst, y:forestRow, xaxis:xa, yaxis:ya, cliponaxis:false, hoverinfo:'skip',
    marker:{symbol:'square', size:13, color:'#000'},
    error_x:{type:'data', symmetric:false, array:forestHigh.map((h, i) => h - forestEst[i]),
      arrayminus:forestLow.map((l, i) => forestEst[i] - l), color:'#000', thickness:3, width:13.5}});
  forestNames.forEach((nm, i) => {
    const base = {xref:'paper', yref:ya, y:forestRow[i], showarrow:false, xanchor:'left', yanchor:'middle', font:{family:FONT, size:27.5, color:'#000'}};
    annotations.push(Object.assign({}, base, {text:nm, x:px(1300)}));
    annotations.push(Object.assign({}, base, {text:forestEst[i].toFixed(3) + ' (' + forestLow[i].toFixed(3) + '\u2212' + forestHigh[i].toFixed(3) + ')', x:px(1421)}));
    annotations.push(Object.assign({}, base, {text:forestPval[i], x:px(1833)}));
  });
  ann('Effect', 1457, 1667, 27.5);
  ann('(95% CI)', 1587, 1667, 27.5);
  ann('P\u2212value', 1895, 1667, 27.5);
  ann('Increase in Long\u2212COVID score per SD eOSM', 1666.5, 2014.7, 27.5);
})();

Plotly.newPlot('fig', traces, layout, {staticPlot:true, displayModeBar:false});
</script>
</body>
</html>
